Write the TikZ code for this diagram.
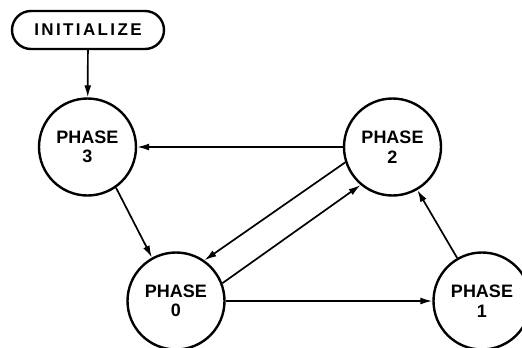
\documentclass[tikz,border=0pt]{standalone}
\usepackage{fontspec}
\setmainfont{Liberation Sans}
\usetikzlibrary{arrows.meta}
\tikzset{
  phase/.style={circle, draw, line width=2.4pt, minimum size=97pt, inner sep=0pt, align=center,
    font=\bfseries\fontsize{18}{19.5}\selectfont},
  startbox/.style={rectangle, draw, line width=2.4pt, rounded corners=19pt, minimum width=152pt,
    minimum height=38pt, font=\bfseries\fontsize{17}{18}\selectfont\addfontfeature{LetterSpace=14}},
  arr/.style={line width=1.7pt, -{Latex[length=12pt,width=7pt]}}
}
\begin{document}
\begin{tikzpicture}[x=1pt,y=-1pt]
\useasboundingbox (0,0) rectangle (522,348);
\node[startbox] (init) at (88,30) {INITIALIZE};
\node[phase] (p3) at (87.5,147) {PHASE\\3};
\node[phase] (p2) at (392.5,147) {PHASE\\2};
\node[phase] (p0) at (176,301) {PHASE\\0};
\node[phase] (p1) at (482,301) {PHASE\\1};
\draw[arr] (init) -- (p3);
\draw[arr] (p2) -- (p3);
\draw[arr] (p3.305) -- (p0.119);
\draw[arr] (p2.198) -- (p0.55);
\draw[arr] (p0.21) -- (p2.230);
\draw[arr] (p0) -- (p1);
\draw[arr] (p1.120) -- (p2.300);
\end{tikzpicture}
\end{document}
